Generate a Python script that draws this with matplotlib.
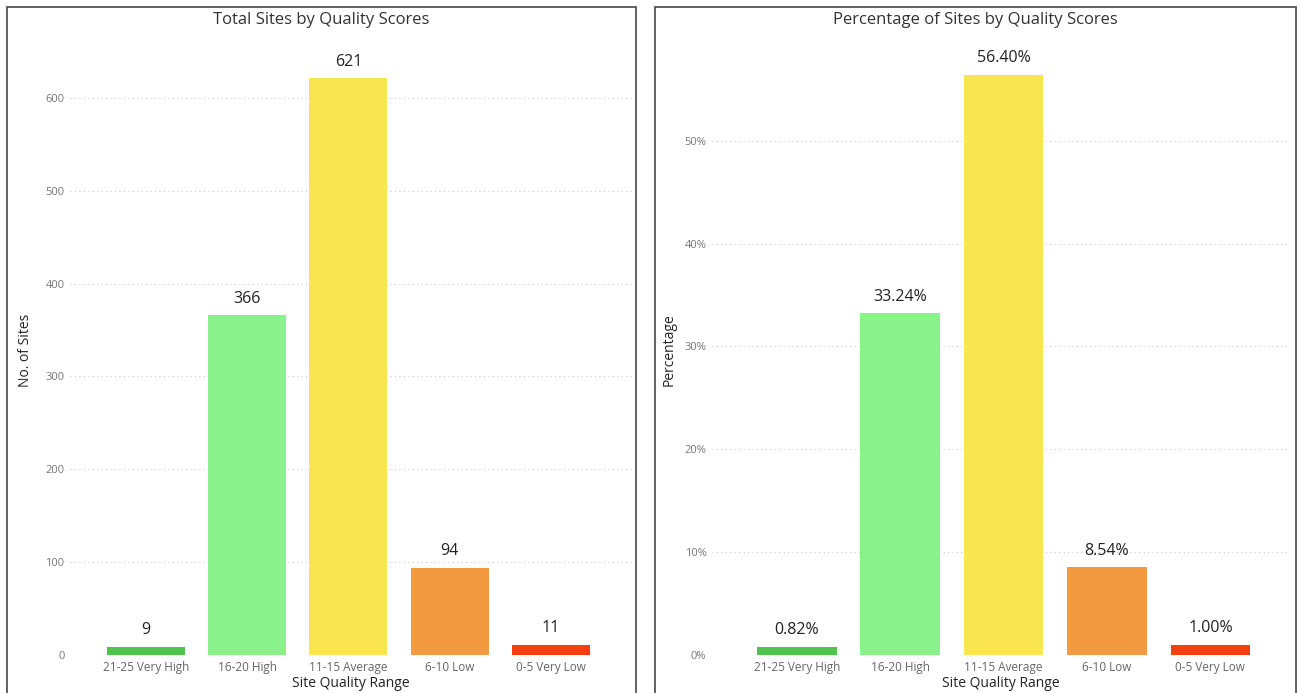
import matplotlib
matplotlib.use('Agg')
import matplotlib.pyplot as plt
from matplotlib.patches import Rectangle

plt.rcParams['font.family'] = ['Open Sans', 'DejaVu Sans']

categories = ['21-25 Very High', '16-20 High', '11-15 Average', '6-10 Low', '0-5 Very Low']
site_counts = [9, 366, 621, 94, 11]
site_pcts = [0.82, 33.24, 56.40, 8.54, 1.00]
bar_colors = ['#4cc54c', '#8af28a', '#f9e550', '#f39a40', '#f5400e']

count_ticks = [0, 100, 200, 300, 400, 500, 600]
pct_ticks = [0, 10, 20, 30, 40, 50]

W, H = 1301, 693
fig = plt.figure(figsize=(W / 100, H / 100), dpi=100)

# panel frames, each visual has its title centred over its frame
panels = [(7, 636, 'Total Sites by Quality Scores'),
          (655, 1296, 'Percentage of Sites by Quality Scores')]
for x0, x1, title in panels:
    fig.patches.append(Rectangle((x0 / W, -0.01), (x1 - x0) / W, 1.0 - 7 / H + 0.01,
                                 transform=fig.transFigure, fill=False,
                                 edgecolor='#555555', linewidth=1.3))
    fig.text((x0 + x1) / 2 / W, 1 - 20 / H, title, ha='center', va='center',
             fontsize=12, color='#333333')

ax1 = fig.add_axes([70 / W, 1 - 655 / H, (632 - 70) / W, (655 - 45) / H])
ax2 = fig.add_axes([712 / W, 1 - 655 / H, (1290 - 712) / W, (655 - 45) / H])


def style(ax, ticks, labels, ylabel, ylabelpad):
    ax.set_yticks(ticks)
    ax.set_yticklabels(labels, fontsize=8, color='#777777')
    ax.set_xticks(range(len(categories)))
    ax.set_xticklabels(categories, fontsize=8.5, color='#666666')
    ax.tick_params(length=0, pad=4)
    for s in ax.spines.values():
        s.set_visible(False)
    ax.grid(axis='y', linestyle=(0, (1, 3)), color='#c8c8c8', linewidth=0.8)
    ax.set_axisbelow(True)
    ax.set_xlabel('Site Quality Range', fontsize=10, color='#222222', labelpad=2)
    ax.set_ylabel(ylabel, fontsize=10, color='#222222', labelpad=ylabelpad)


bars = ax1.bar(range(len(categories)), site_counts, width=0.77, color=bar_colors)
ax1.set_xlim(-0.75, 4.8)
ax1.set_ylim(0, 657)
style(ax1, count_ticks, [str(t) for t in count_ticks], 'No. of Sites', 9)
for b, v in zip(bars, site_counts):
    ax1.annotate(str(v), (b.get_x() + b.get_width() / 2, v), xytext=(0, 6),
                 textcoords='offset points', ha='center', va='bottom',
                 fontsize=11.5, color='#222222')

bars = ax2.bar(range(len(categories)), site_pcts, width=0.77, color=bar_colors)
ax2.set_xlim(-0.82, 4.77)
ax2.set_ylim(0, 59.3)
style(ax2, pct_ticks, [f'{t}%' for t in pct_ticks], 'Percentage', 6)
for b, v in zip(bars, site_pcts):
    ax2.annotate(f'{v:.2f}%', (b.get_x() + b.get_width() / 2, v), xytext=(0, 6),
                 textcoords='offset points', ha='center', va='bottom',
                 fontsize=11.5, color='#222222')

fig.savefig('out.png', dpi=100)
